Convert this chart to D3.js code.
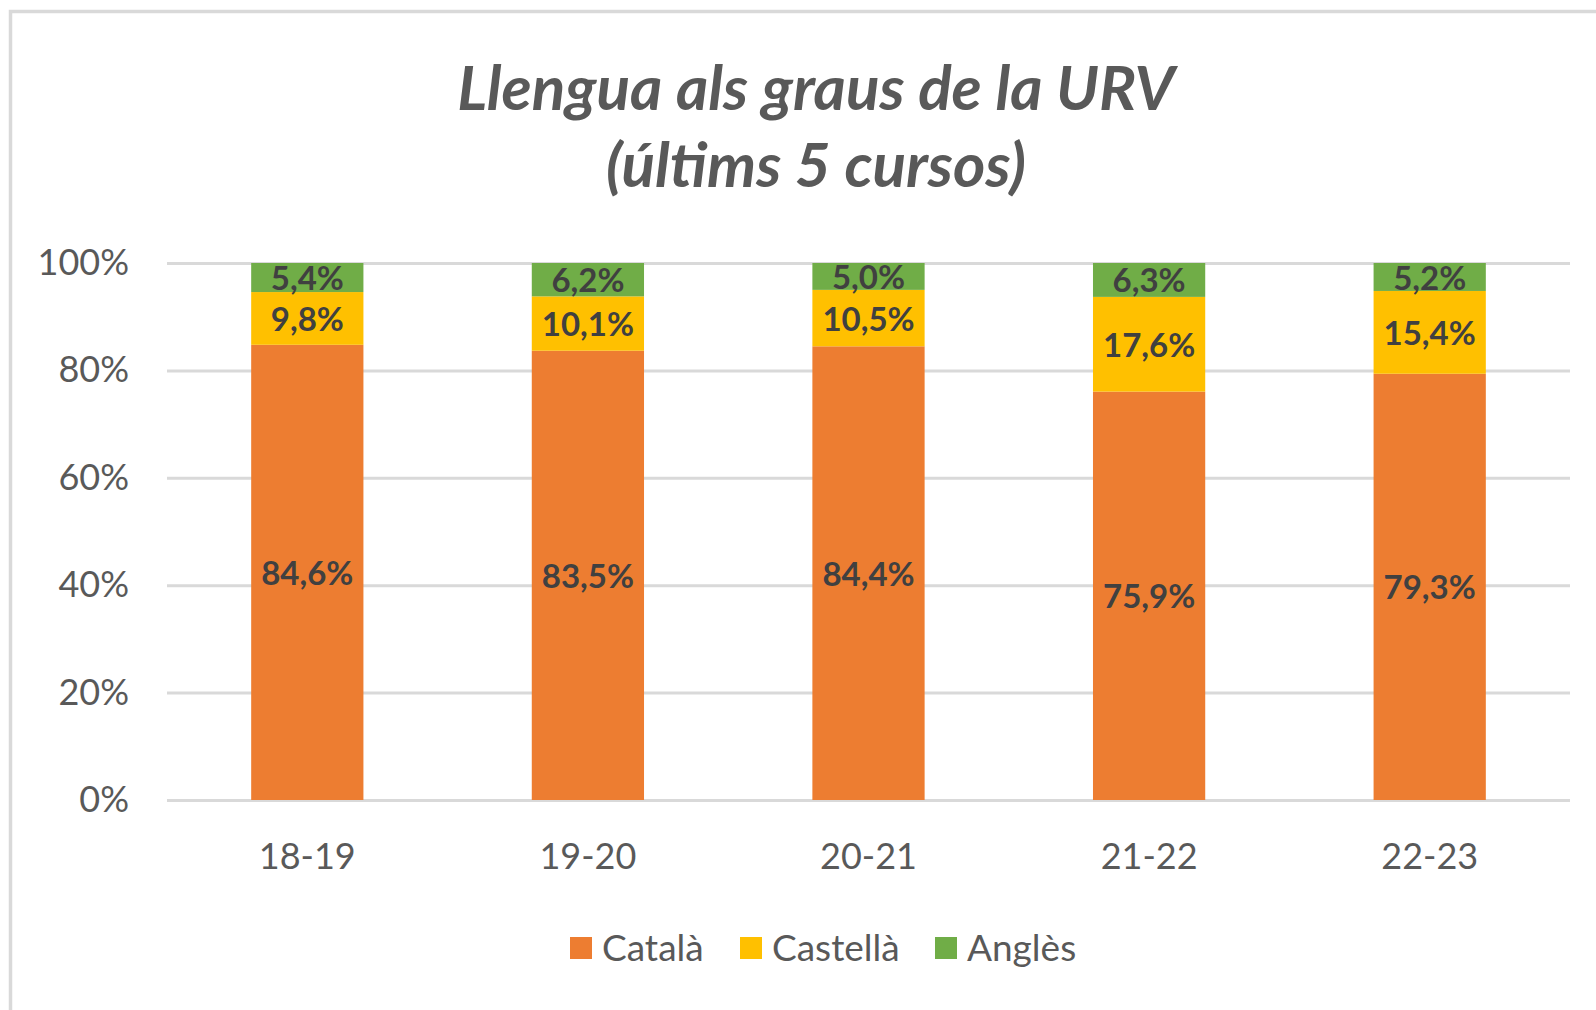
<!DOCTYPE html>
<html>
<head>
<meta charset="utf-8">
<script src="https://cdn.jsdelivr.net/npm/d3@7"></script>
<style>
    body { margin: 0; background: #fff; }
    text { font-family: Lato, "Open Sans", sans-serif; }
</style>
</head>
<body>
<svg id="chart"></svg>
<script>
// dades llegides del gràfic
const cursos = ["18-19", "19-20", "20-21", "21-22", "22-23"]
const catala = [84.6, 83.5, 84.4, 75.9, 79.3]
const castella = [9.8, 10.1, 10.5, 17.6, 15.4]
const angles = [5.4, 6.2, 5.0, 6.3, 5.2]
const llengues = ["Català", "Castellà", "Anglès"]
const colors = ["#ED7D31", "#FFC000", "#70AD47"]
const yTicks = [0, 0.2, 0.4, 0.6, 0.8, 1]
const titleLines = ["Llengua als graus de la URV", "(últims 5 cursos)"]

const chart = { width: 1596, height: 1010 }
const padding = { left: 167, right: 26, top: 263, bottom: 210 }

const rows = cursos.map((c, i) => ({
    curs: c,
    "Català": catala[i],
    "Castellà": castella[i],
    "Anglès": angles[i]
}))

const svg = d3.select("#chart")
    .attr("width", chart.width)
    .attr("height", chart.height)

// marc del gràfic
svg.append("rect")
    .attr("x", 10.5)
    .attr("y", 11.5)
    .attr("width", chart.width + 40)
    .attr("height", chart.height + 40)
    .attr("fill", "#fff")
    .attr("stroke", "#d9d9d9")
    .attr("stroke-width", 3.5)

const scaleX = d3.scaleBand()
    .domain(cursos)
    .range([padding.left, chart.width - padding.right])
    .paddingInner(0.6)
    .paddingOuter(0.3)

const scaleY = d3.scaleLinear()
    .domain([0, 1])
    .range([chart.height - padding.bottom, padding.top])

const color = d3.scaleOrdinal().domain(llengues).range(colors)

// eix Y amb línies de quadrícula
const yAxis = svg.append("g")
    .attr("transform", "translate(" + padding.left + ",0)")
    .call(d3.axisLeft(scaleY)
        .tickValues(yTicks)
        .tickFormat(d3.format(".0%"))
        .tickSize(-(chart.width - padding.left - padding.right))
        .tickPadding(38))
yAxis.select(".domain").remove()
yAxis.selectAll(".tick line")
    .attr("stroke", "#d9d9d9")
    .attr("stroke-width", 3)
yAxis.selectAll(".tick text")
    .attr("fill", "#595959")
    .style("font-size", "36px")
    .style("font-family", "Lato")

const xAxis = svg.append("g")
    .attr("transform", "translate(0," + (chart.height - padding.bottom) + ")")
    .call(d3.axisBottom(scaleX).tickSize(0).tickPadding(43))
xAxis.select(".domain").remove()
xAxis.selectAll(".tick text")
    .attr("fill", "#595959")
    .style("font-size", "36px")
    .style("font-family", "Lato")

// barres apilades al 100%
const series = d3.stack()
    .keys(llengues)
    .offset(d3.stackOffsetExpand)(rows)

const fmt = v => v.toFixed(1).replace(".", ",") + "%"

const groups = svg.selectAll(".serie")
    .data(series)
    .enter()
    .append("g")
    .attr("class", "serie")
    .attr("fill", d => color(d.key))

groups.selectAll("rect")
    .data(d => d)
    .enter()
    .append("rect")
    .attr("x", d => scaleX(d.data.curs))
    .attr("width", scaleX.bandwidth())
    .attr("y", d => scaleY(d[1]))
    .attr("height", d => scaleY(d[0]) - scaleY(d[1]))

const labels = svg.append("g")
series.forEach(s => {
    labels.selectAll(null)
        .data(s)
        .enter()
        .append("text")
        .attr("x", d => scaleX(d.data.curs) + scaleX.bandwidth() / 2)
        .attr("y", d => (scaleY(d[0]) + scaleY(d[1])) / 2)
        .attr("dy", "0.38em")
        .attr("text-anchor", "middle")
        .attr("fill", "#404040")
        .style("font-size", "33px")
        .style("font-weight", "bold")
        .text(d => fmt(d.data[s.key]))
})

// títol
svg.append("g")
    .selectAll("text")
    .data(titleLines)
    .enter()
    .append("text")
    .attr("x", 816)
    .attr("y", (d, i) => 110 + i * 77)
    .attr("text-anchor", "middle")
    .attr("fill", "#595959")
    .style("font-size", "62px")
    .style("font-weight", "bold")
    .style("font-style", "italic")
    .text(d => d)

// llegenda
const legendX = [570, 740, 935]
const legend = svg.append("g")
    .selectAll("g")
    .data(llengues)
    .enter()
    .append("g")
    .attr("transform", (d, i) => "translate(" + legendX[i] + ",948)")
legend.append("rect")
    .attr("x", 0)
    .attr("y", -11)
    .attr("width", 22)
    .attr("height", 22)
    .attr("fill", d => color(d))
legend.append("text")
    .attr("x", 32)
    .attr("dy", "0.36em")
    .attr("fill", "#595959")
    .style("font-size", "37px")
    .text(d => d)
</script>
</body>
</html>
